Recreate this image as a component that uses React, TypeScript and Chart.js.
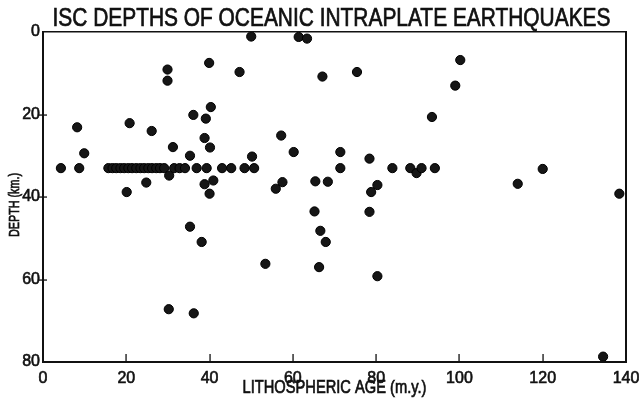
import { useEffect, useRef } from "react";
import { Chart, registerables } from "chart.js";

Chart.register(...registerables);

const TITLE = "ISC DEPTHS OF OCEANIC INTRAPLATE EARTHQUAKES";
const X_TITLE = "LITHOSPHERIC AGE (m.y.)";
const Y_TITLE = "DEPTH (km.)";

const xTicks = [0, 20, 40, 60, 80, 100, 120, 140];
const yTicks = [0, 20, 40, 60, 80];

// Lithospheric age (m.y.)
const ages = [
  4.3, 8.7, 8.2, 9.9, 20.1, 20.8,
  15.7, 16.7, 17.6, 18.6, 19.5, 20.5, 21.4, 22.4, 23.4, 24.3, 25.3, 26.2, 27.2, 28.1, 29.1,
  24.8, 26.1, 29.9, 29.9, 30.3, 31.2, 31.5, 32.8, 34.1,
  35.3, 36.1, 36.9, 38.8, 39.1, 39.3, 40.1, 40.3, 39.9, 38.8, 40.9, 40.0,
  35.3, 38.1, 30.2, 36.2,
  43.0, 45.2, 48.4, 50.7, 47.2, 50.0, 61.4, 63.4, 67.1, 75.4,
  57.2, 50.2, 60.2, 71.4, 78.4, 71.4, 83.9, 88.2, 89.7, 90.9, 94.1, 93.4,
  55.9, 57.5, 65.4, 68.4, 78.8, 80.3, 65.2, 78.4, 66.6, 67.9, 53.4, 66.3, 80.3,
  100.2, 99.0, 120.0, 114.0, 138.4, 134.5,
];

// ISC depth (km)
const depths = [
  33, 33, 23.1, 29.4, 38.8, 22.1,
  33, 33, 33, 33, 33, 33, 33, 33, 33, 33, 33, 33, 33, 33, 33,
  36.5, 24.0, 9.1, 11.8, 34.8, 27.9, 33, 33, 33,
  30, 20.1, 33, 25.7, 21, 33, 28, 18.2, 7.5, 36.9, 36, 39.2,
  47.2, 50.9, 67.2, 68.2,
  33, 33, 33, 33, 9.7, 1.1, 1.2, 1.6, 10.8, 9.7,
  25.1, 30.2, 29.1, 29.1, 30.7, 33, 33, 33, 34.2, 33, 33, 20.6,
  38, 36.4, 36.2, 36.3, 38.8, 37.1, 43.5, 43.6, 48.2, 50.9, 56.2, 57, 59.2,
  6.8, 13, 33.2, 36.8, 39.2, 78.7,
];

const SANS = '"Liberation Sans", Arial, sans-serif';
const INK = "#111";

function drawCondensed(
  ctx: CanvasRenderingContext2D,
  text: string,
  x: number,
  y: number,
  size: number,
  width: number,
  rot = 0
) {
  ctx.save();
  ctx.font = `${size}px ${SANS}`;
  const w = ctx.measureText(text).width;
  ctx.translate(x, y);
  ctx.rotate(rot);
  ctx.scale(width / w, 1);
  ctx.fillStyle = INK;
  ctx.strokeStyle = INK;
  ctx.lineWidth = 0.7;
  ctx.textAlign = "center";
  ctx.textBaseline = "middle";
  ctx.fillText(text, 0, 0);
  ctx.strokeText(text, 0, 0);
  ctx.restore();
}

const framePlugin = {
  id: "frame",
  afterDraw(chart: any) {
    const ctx: CanvasRenderingContext2D = chart.ctx;
    const { left, right, top, bottom } = chart.chartArea;
    const sx = chart.scales.x;
    const sy = chart.scales.y;
    ctx.save();
    ctx.fillStyle = INK;
    const l = Math.round(left);
    const r = Math.round(right);
    const t = Math.round(top);
    const b = Math.round(bottom);
    // frame
    ctx.fillRect(l - 1, t - 1, r - l + 2, 1.5);
    ctx.fillRect(l - 1, b - 1, r - l + 2, 2);
    ctx.fillRect(l - 1, t - 1, 2, b - t + 2);
    ctx.fillRect(r - 1, t - 1, 2, b - t + 2);
    // inward ticks
    for (const v of xTicks.slice(1, -1)) {
      const px = Math.round(sx.getPixelForValue(v));
      ctx.fillRect(px - 0.6, b - 8, 1.3, 8);
    }
    for (const v of yTicks.slice(1, -1)) {
      const py = Math.round(sy.getPixelForValue(v));
      ctx.fillRect(l - 4, py - 0.6, 8, 1.3);
    }
    ctx.restore();
    drawCondensed(ctx, TITLE, (left + right) / 2 - 3, 19, 25, 558);
    drawCondensed(ctx, X_TITLE, (left + right) / 2, 388, 19, 184);
    drawCondensed(ctx, Y_TITLE, 15, 205, 15, 64, -Math.PI / 2);
  },
};

export default function App() {
  const ref = useRef<HTMLCanvasElement | null>(null);
  useEffect(() => {
    if (!ref.current) return;
    const points = ages.map((a, i) => ({ x: a, y: depths[i] }));
    const chart = new Chart(ref.current, {
      type: "scatter",
      data: {
        datasets: [
          {
            data: points,
            backgroundColor: "#161616",
            borderColor: "#000",
            borderWidth: 1,
            pointRadius: 4.6,
            pointHoverRadius: 4.6,
          },
        ],
      },
      options: {
        animation: false,
        responsive: true,
        maintainAspectRatio: false,
        layout: { padding: { top: 32, right: 13, left: 0, bottom: 0 } },
        plugins: { legend: { display: false }, tooltip: { enabled: false } },
        scales: {
          x: {
            type: "linear",
            min: 0,
            max: 140,
            afterFit: (s: any) => {
              s.height = 36;
              s.paddingLeft = 0;
              s.paddingRight = 0;
            },
            afterBuildTicks: (s: any) => {
              s.ticks = xTicks.map((v) => ({ value: v }));
            },
            grid: { display: false, drawTicks: false },
            border: { display: false },
            ticks: {
              padding: 7,
              color: INK,
              textStrokeColor: INK,
              textStrokeWidth: 0.6,
              font: { family: SANS, size: 16 },
              maxRotation: 0,
            },
          },
          y: {
            type: "linear",
            min: 0,
            max: 80,
            reverse: true,
            afterFit: (s: any) => {
              s.width = 43;
              s.paddingTop = 0;
              s.paddingBottom = 0;
            },
            afterBuildTicks: (s: any) => {
              s.ticks = yTicks.map((v) => ({ value: v }));
            },
            grid: { display: false, drawTicks: false },
            border: { display: false },
            ticks: {
              padding: 3,
              color: INK,
              textStrokeColor: INK,
              textStrokeWidth: 0.6,
              font: { family: SANS, size: 16 },
            },
          },
        },
      },
      plugins: [framePlugin],
    });
    return () => chart.destroy();
  }, []);
  return (
    <div style={{ position: "absolute", left: 0, top: 0, width: 639, height: 398, background: "#fff" }}>
      <canvas ref={ref} />
    </div>
  );
}
